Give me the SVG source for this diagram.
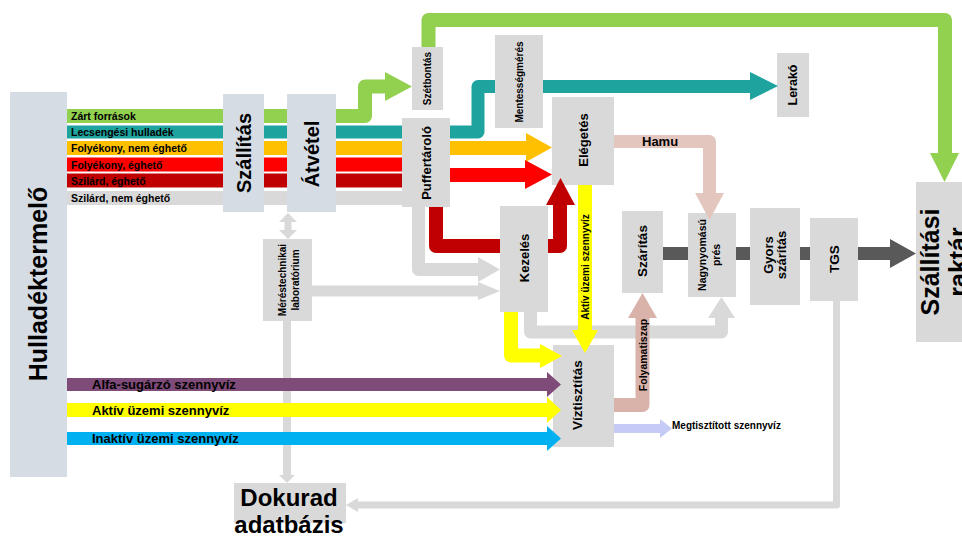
<svg xmlns="http://www.w3.org/2000/svg" width="962" height="537" viewBox="0 0 962 537">
<style>
text{font-family:"Liberation Sans",Arial,sans-serif;font-weight:bold;fill:#000}
.bb{fill:#d5dce4}
.gb{fill:#d9d9d9}
.c{text-anchor:middle;dominant-baseline:central}
.m{dominant-baseline:central}
.band{fill:none;stroke-linejoin:round}
.lg{stroke:#d9d9d9}
.lgf{fill:#d9d9d9}
</style>
<rect width="962" height="537" fill="#fff"/>
<g id="n-hulladektermelo"><rect class="bb" x="10" y="92" width="57" height="385"/><text class="c" transform="translate(38,284) rotate(-90)" font-size="25">Hulladéktermelő</text></g>
<g id="n-szallitas"><rect class="bb" x="223" y="94" width="41" height="118"/><text class="c" transform="translate(243.5,153) rotate(-90)" font-size="20">Szállítás</text></g>
<g id="n-atvetel"><rect class="bb" x="287" y="94" width="49" height="118"/><text class="c" transform="translate(311.5,154) rotate(-90)" font-size="20">Átvétel</text></g>
<g id="n-szetbontas"><rect class="gb" x="412" y="47" width="31" height="63"/><text class="c" transform="translate(427.5,78.5) rotate(-90)" font-size="10">Szétbontás</text></g>
<g id="n-puffertarolo"><rect class="gb" x="402" y="118" width="48" height="89"/><text class="c" transform="translate(426,163) rotate(-90)" font-size="13">Puffertároló</text></g>
<g id="n-mentessegmeres"><rect class="gb" x="495" y="35" width="48" height="93"/><text class="c" transform="translate(519,82) rotate(-90)" font-size="10">Mentességmérés</text></g>
<g id="n-lerako"><rect class="gb" x="777" y="53" width="32" height="64"/><text class="c" transform="translate(793,85) rotate(-90)" font-size="12.5">Lerakó</text></g>
<g id="n-elegetes"><rect class="gb" x="552" y="97" width="62" height="88"/><text class="c" transform="translate(583,140) rotate(-90)" font-size="13">Elégetés</text></g>
<g id="n-kezeles"><rect class="gb" x="500" y="206" width="48" height="106"/><text class="c" transform="translate(524,258) rotate(-90)" font-size="13">Kezelés</text></g>
<g id="n-labor"><rect class="gb" x="263" y="239" width="49" height="82"/><text class="c" transform="translate(282,280) rotate(-90)" font-size="10">Méréstechnikai</text><text class="c" transform="translate(295,280) rotate(-90)" font-size="10">laboratórium</text></g>
<g id="n-viztisztitas"><rect class="gb" x="553" y="345" width="61" height="102"/><text class="c" transform="translate(577,395) rotate(-90)" font-size="13.5">Víztisztítás</text></g>
<g id="n-szaritas"><rect class="gb" x="622" y="211" width="41" height="82"/><text class="c" transform="translate(642.5,251) rotate(-90)" font-size="13.5">Szárítás</text></g>
<g id="n-nagynyomasu"><rect class="gb" x="688" y="213" width="48" height="84"/><text class="c" transform="translate(702,255) rotate(-90)" font-size="10.5">Nagynyomású</text><text class="c" transform="translate(716,255) rotate(-90)" font-size="10.5">prés</text></g>
<g id="n-gyors"><rect class="gb" x="750" y="208" width="50" height="97"/><text class="c" transform="translate(768,255) rotate(-90)" font-size="13">Gyors</text><text class="c" transform="translate(781,255) rotate(-90)" font-size="13">szárítás</text></g>
<g id="n-tgs"><rect class="gb" x="810" y="218" width="48" height="83"/><text class="c" transform="translate(834,259) rotate(-90)" font-size="13.5">TGS</text></g>
<g id="n-raktar"><rect class="gb" x="916" y="182" width="60" height="160"/><text class="c" transform="translate(930,262) rotate(-90)" font-size="25">Szállítási</text><text class="c" transform="translate(958,262) rotate(-90)" font-size="25">raktár</text></g>
<g id="n-dokurad"><rect class="gb" x="234" y="483" width="112" height="40"/><text x="289" y="506" text-anchor="middle" font-size="24">Dokurad</text><text x="289" y="533" text-anchor="middle" font-size="24">adatbázis</text></g>
<g id="connectors">
<path class="band lg" stroke-width="8" d="M287,321V476"/><polygon class="lgf" points="279,475 295,475 287,483"/>
<path class="band lg" stroke-width="7" d="M288,221V231"/><polygon class="lgf" points="279,222 297,222 288,213"/><polygon class="lgf" points="279,230 297,230 288,239"/>
<path class="band lg" stroke-width="13" d="M418.5,207V269.5H479"/><polygon class="lgf" points="478,257 478,282 500,269.5"/>
<path class="band lg" stroke-width="11" d="M312,291H479"/><polygon class="lgf" points="478,282 478,300 500,291"/>
<path class="band lg" stroke-width="13" d="M530.5,312V332H721.5V318"/><polygon class="lgf" points="708,318 735,318 721.5,297"/>
<path class="band lg" stroke-width="7" d="M836.5,301V505H357"/><polygon class="lgf" points="358,498 358,512 346,505"/>
<path class="band lg" stroke-width="14" d="M67,198H223M264,198H287M336,198H402"/>
<path class="band" stroke="#92d050" stroke-width="14" d="M67,116H223M264,116H287M336,116H365V86.5H386"/><polygon fill="#92d050" points="385,72 385,101 412,86.5"/>
<path class="band" stroke="#92d050" stroke-width="14" d="M428.5,47V20H945V154"/><polygon fill="#92d050" points="930,153 959,153 944.5,182"/>
<path class="band" stroke="#1fa39f" stroke-width="13" d="M67,132H223M264,132H287M336,132H402M450,132H478V86.5H495M543,86.5H751"/><polygon fill="#1fa39f" points="750,72 750,100 778,86"/>
<path class="band" stroke="#ffc000" stroke-width="14" d="M67,148H223M264,148H287M336,148H402M450,148H527"/><polygon fill="#ffc000" points="526,133 526,162 552,147.5"/>
<path class="band" stroke="#ff0000" stroke-width="14" d="M67,164.5H223M264,164.5H287M336,164.5H402M450,175H526"/><polygon fill="#ff0000" points="525,160 525,189 552,174.5"/>
<path class="band" stroke="#c00000" stroke-width="14" d="M67,180.5H223M264,180.5H287M336,180.5H402M436,207V246H500M548,246H560V204"/><polygon fill="#c00000" points="546,205 575,205 560.5,178"/>
<path class="band" stroke="#ffff00" stroke-width="14" d="M585,185V331"/><polygon fill="#ffff00" points="572,330 598,330 585,353"/>
<path class="band" stroke="#ffff00" stroke-width="14" d="M511,312V355.5H541"/><polygon fill="#ffff00" points="540,344 540,368 562,356"/>
<path class="band" stroke="#e3c6be" stroke-width="13" d="M614,141.5H709.5V194"/><polygon fill="#e3c6be" points="695,193 724,193 709.5,220"/>
<path class="band" stroke="#d9b2aa" stroke-width="14" d="M614,405H642.5V318"/><polygon fill="#d9b2aa" points="628,318 657,318 642.5,293"/>
<path class="band" stroke="#c5cbf5" stroke-width="9" d="M614,428.5H661"/><polygon fill="#c5cbf5" points="660,419 660,438 672,428.5"/>
<path class="band" stroke="#595959" stroke-width="13" d="M663,253.5H688M736,253.5H750M800,253.5H810M858,253.5H891"/><polygon fill="#595959" points="890,239 890,268 916,253.5"/>
<path class="band" stroke="#7f4b78" stroke-width="13" d="M67,384.5H548"/><polygon fill="#7f4b78" points="547,372 547,397 561,384.5"/>
<path class="band" stroke="#ffff00" stroke-width="14" d="M67,410H548"/><polygon fill="#ffff00" points="547,397 547,423 561,410"/>
<path class="band" stroke="#00b0f0" stroke-width="13" d="M67,438.5H548"/><polygon fill="#00b0f0" points="547,426 547,451 561,438.5"/>
<text class="m" x="71" y="116" font-size="10.5">Zárt források</text>
<text class="m" x="71" y="132" font-size="10.5">Lecsengési hulladék</text>
<text class="m" x="71" y="148" font-size="10.5">Folyékony, nem éghető</text>
<text class="m" x="71" y="164.5" font-size="10.5">Folyékony, éghető</text>
<text class="m" x="71" y="180.5" font-size="10.5">Szilárd, éghető</text>
<text class="m" x="71" y="198" font-size="10.5">Szilárd, nem éghető</text>
<text class="m" x="92" y="384.5" font-size="13">Alfa-sugárzó szennyvíz</text>
<text class="m" x="92" y="410" font-size="13">Aktív üzemi szennyvíz</text>
<text class="m" x="92" y="438.5" font-size="13">Inaktív üzemi szennyvíz</text>
<text x="642" y="146" font-size="13">Hamu</text>
<text class="c" transform="translate(585,267) rotate(-90)" font-size="10">Aktív üzemi szennyvíz</text>
<text class="c" transform="translate(642.5,355) rotate(-90)" font-size="10.5">Folyamatiszap</text>
<text class="m" x="672" y="425.5" font-size="10">Megtisztított szennyvíz</text>
</g>
</svg>
